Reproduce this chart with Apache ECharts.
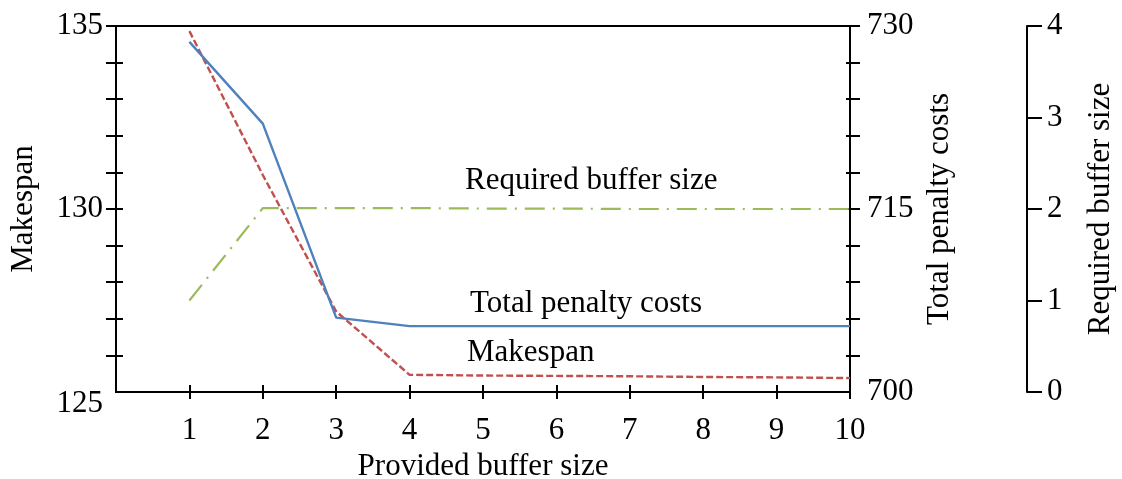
<!DOCTYPE html>
<html>
<head>
<meta charset="utf-8">
<script src="https://cdn.jsdelivr.net/npm/echarts@6/dist/echarts.min.js"></script>
<style>html,body{margin:0;padding:0;background:#fff}#c{width:1122px;height:479px}</style>
</head>
<body>
<div id="c"></div>
<script>
// ---- data ----
const bufferSizes = [1, 2, 3, 4, 5, 6, 7, 8, 9, 10];
const makespan = [134.86, 130.93, 127.2, 125.47, 125.45, 125.44, 125.43, 125.41, 125.40, 125.38];
const penaltyCosts = [728.7, 722.0, 706.1, 705.4, 705.4, 705.4, 705.4, 705.4, 705.4, 705.4];
const requiredBuffer = [1, 2.01, 2.01, 2.01, 2.005, 2.005, 2.0, 2.0, 2.0, 2.0];
const xTicks = [1, 2, 3, 4, 5, 6, 7, 8, 9, 10];
const makespanTicks = [126, 127, 128, 129, 130, 131, 132, 133, 134, 135];
const makespanLabels = [125, 130, 135];
const penaltyTicks = [703, 706, 709, 712, 715, 718, 721, 724, 727, 730];
const penaltyLabels = [700, 715, 730];

const FONT = 'Liberation Serif';
const FS = 31;
const black = '#000';
const pair = arr => bufferSizes.map((x, i) => [x, arr[i]]);

const chart = echarts.init(document.getElementById('c'), null, {renderer: 'canvas'});
const lbl = {fontFamily: FONT, fontSize: FS, color: black};
const nameStyle = {fontFamily: FONT, fontSize: FS, color: black};

chart.setOption({
  animation: false,
  backgroundColor: '#fff',
  grid: {left: 116, right: 272, top: 26, bottom: 87, show: true, borderColor: black, borderWidth: 2, backgroundColor: 'transparent', containLabel: false, outerBoundsMode: 'none'},
  xAxis: [
    {type: 'value', min: 0, max: 10, interval: 1,
     axisLine: {show: true, lineStyle: {color: black, width: 2}},
     axisTick: {show: true, inside: false, length: 7, lineStyle: {color: black, width: 2}, customValues: xTicks},
     axisLabel: Object.assign({margin: 23, customValues: xTicks}, lbl),
     splitLine: {show: false},
     name: 'Provided buffer size', nameLocation: 'middle', nameGap: 58, nameTextStyle: nameStyle},
    {type: 'value', min: 0, max: 10, interval: 1, position: 'bottom',
     axisLine: {show: false},
     axisTick: {show: true, inside: true, length: 7, lineStyle: {color: black, width: 2}, customValues: xTicks},
     axisLabel: {show: false}, splitLine: {show: false}}
  ],
  yAxis: [
    {type: 'value', min: 125, max: 135, position: 'left',
     axisLine: {show: true, lineStyle: {color: black, width: 2}},
     axisTick: {show: true, inside: false, length: 10, lineStyle: {color: black, width: 2}, customValues: makespanTicks},
     axisLabel: Object.assign({margin: 13, customValues: makespanLabels,
       formatter: v => v === 125 ? '{d|125}' : String(v),
       rich: {d: {fontFamily: FONT, fontSize: FS, color: black, padding: [24, 0, 0, 0]}}}, lbl),
     splitLine: {show: false},
     name: 'Makespan', nameLocation: 'middle', nameGap: 77, nameTextStyle: nameStyle},
    {type: 'value', min: 125, max: 135, position: 'left',
     axisLine: {show: false},
     axisTick: {show: true, inside: true, length: 7, lineStyle: {color: black, width: 2}, customValues: makespanTicks},
     axisLabel: {show: false}, splitLine: {show: false}},
    {type: 'value', min: 700, max: 730, position: 'right',
     axisLine: {show: true, lineStyle: {color: black, width: 2}},
     axisTick: {show: true, inside: false, length: 10, lineStyle: {color: black, width: 2}, customValues: penaltyTicks},
     axisLabel: Object.assign({margin: 17, customValues: penaltyLabels}, lbl),
     splitLine: {show: false},
     name: 'Total penalty costs', nameLocation: 'middle', nameGap: 71, nameTextStyle: nameStyle},
    {type: 'value', min: 700, max: 730, position: 'right',
     axisLine: {show: false},
     axisTick: {show: true, inside: true, length: 4, lineStyle: {color: black, width: 2}, customValues: penaltyTicks},
     axisLabel: {show: false}, splitLine: {show: false}},
    {type: 'value', min: 0, max: 4, interval: 1, position: 'right', offset: 177,
     axisLine: {show: true, lineStyle: {color: black, width: 2}},
     axisTick: {show: true, inside: false, length: 15, lineStyle: {color: black, width: 2}},
     axisLabel: Object.assign({margin: 20}, lbl),
     splitLine: {show: false},
     name: 'Required buffer size', nameLocation: 'middle', nameGap: 58, nameTextStyle: nameStyle}
  ],
  series: [
    {name: 'Required buffer size', type: 'line', xAxisIndex: 0, yAxisIndex: 4, data: pair(requiredBuffer),
     showSymbol: false, symbol: 'none', lineStyle: {color: '#9BBB59', width: 2.2, type: [20, 8, 2, 8]}},
    {name: 'Makespan', type: 'line', xAxisIndex: 0, yAxisIndex: 0, data: pair(makespan),
     showSymbol: false, symbol: 'none', lineStyle: {color: '#C0504D', width: 2.4, type: [7, 3]}},
    {name: 'Total penalty costs', type: 'line', xAxisIndex: 0, yAxisIndex: 2, data: pair(penaltyCosts),
     showSymbol: false, symbol: 'none', lineStyle: {color: '#4F81BD', width: 2.4, type: 'solid'}}
  ],
  graphic: [
    {type: 'text', left: 465, top: 165, style: {text: 'Required buffer size', font: FS + 'px "' + FONT + '"', fill: black}},
    {type: 'text', left: 470, top: 288, style: {text: 'Total penalty costs', font: FS + 'px "' + FONT + '"', fill: black}},
    {type: 'text', left: 467, top: 337, style: {text: 'Makespan', font: FS + 'px "' + FONT + '"', fill: black}}
  ]
});
</script>
</body>
</html>
